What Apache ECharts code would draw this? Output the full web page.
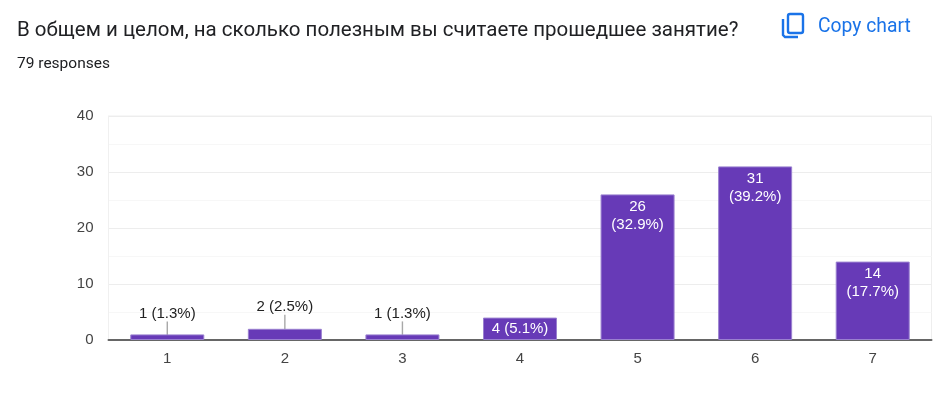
<!DOCTYPE html>
<html>
<head>
<meta charset="utf-8">
<style>
html, body { margin: 0; padding: 0; background: #fff; }
#chart { width: 935px; height: 394px; }
</style>
</head>
<body>
<div id="chart"></div>
<script src="https://cdn.jsdelivr.net/npm/echarts@6/dist/echarts.min.js"></script>
<script>
const titleText = 'В общем и целом, на сколько полезным вы считаете прошедшее занятие?'
const subtitleText = '79 responses'
const copyText = 'Copy chart'
const categories = ['1', '2', '3', '4', '5', '6', '7']
const counts = [1, 2, 1, 4, 26, 31, 14]
const percents = ['1.3', '2.5', '1.3', '5.1', '32.9', '39.2', '17.7']

const PURPLE = '#673ab7'
const labelFont = '"Liberation Sans", Arial, sans-serif'

const barData = counts.map((value, i) => {
  const item = { value }
  if (value <= 2) {
    // small bars: label sits above with a thin leader line
    item.label = {
      show: true,
      position: 'top',
      color: '#222',
      formatter: `${value} (${percents[i]}%)`,
    }
    item.labelLine = { show: true, lineStyle: { color: '#a8a8a8', width: 1.4 } }
  } else if (value < 10) {
    item.label = {
      show: true,
      position: 'inside',
      color: '#fff',
      formatter: `${value} (${percents[i]}%)`,
    }
  } else {
    item.label = {
      show: true,
      position: 'insideTop',
      distance: 3,
      color: '#fff',
      lineHeight: 18,
      formatter: `${value}\n(${percents[i]}%)`,
    }
  }
  return item
})

const option = {
  animation: false,
  textStyle: { fontFamily: labelFont },
  title: [
    {
      text: titleText,
      left: 12,
      top: 15,
      textStyle: { fontFamily: 'Roboto, sans-serif', fontSize: 20.5, fontWeight: 400, color: '#202124' },
    },
    {
      text: subtitleText,
      left: 12,
      top: 51,
      textStyle: { fontFamily: 'Roboto, sans-serif', fontSize: 15.5, fontWeight: 400, color: '#202124' },
    },
    {
      text: copyText,
      left: 813,
      top: 13,
      textStyle: { fontFamily: 'Roboto, sans-serif', fontSize: 19.3, fontWeight: 400, color: '#1a73e8' },
    },
  ],
  graphic: [
    // copy icon
    {
      type: 'rect',
      shape: { x: 788, y: 14, width: 15, height: 19, r: 2 },
      style: { fill: 'none', stroke: '#1a73e8', lineWidth: 2.4 },
    },
    {
      type: 'polyline',
      shape: { points: [[783, 19], [783, 35], [785, 37], [798, 37]] },
      style: { fill: 'none', stroke: '#1a73e8', lineWidth: 2.4 },
    },
  ],
  grid: { show: true, borderColor: '#eeeeee', borderWidth: 1, left: 108.5, right: 3.5, top: 116, bottom: 54 },
  xAxis: {
    type: 'category',
    data: categories,
    axisTick: { show: false },
    axisLine: { lineStyle: { color: '#666', width: 2 } },
    axisLabel: { color: '#444', fontSize: 15, margin: 11, fontFamily: labelFont },
  },
  yAxis: {
    type: 'value',
    min: 0,
    max: 40,
    interval: 10,
    axisLine: { show: true, onZero: false, lineStyle: { color: '#f0f0f0' } },
    axisTick: { show: false },
    axisLabel: { color: '#444', fontSize: 15, margin: 15, fontFamily: labelFont },
    splitLine: { lineStyle: { color: '#ededed', width: 1 } },
    minorTick: { show: false, splitNumber: 2 },
    minorSplitLine: { show: true, lineStyle: { color: '#f7f7f7', width: 1 } },
  },
  series: [
    {
      type: 'bar',
      data: barData,
      barWidth: 74,
      itemStyle: { color: PURPLE, borderColor: '#9a80d0', borderWidth: 1 },
      label: { fontSize: 15, fontFamily: labelFont },
      labelLayout: (params) => {
        const count = counts[params.dataIndex]
        if (count > 2) return {}
        return { dy: count === 1 ? -8 : -9 }
      },
    },
  ],
}

const myChart = echarts.init(document.getElementById('chart'))
myChart.setOption(option)
</script>
</body>
</html>
